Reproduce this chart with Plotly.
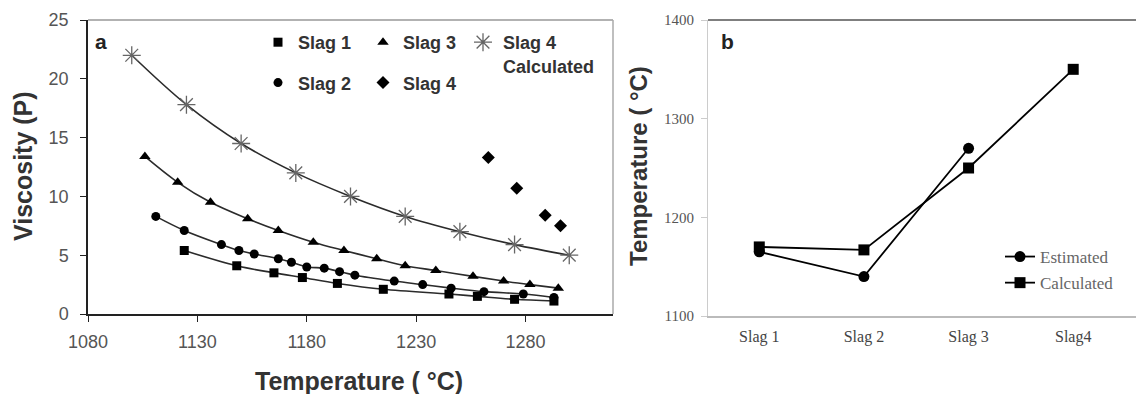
import plotly.graph_objects as go

# ---------------- data: panel a (viscosity vs temperature) ----------------
slag1_T = [1124, 1148, 1165, 1178, 1194, 1215, 1245, 1258, 1275, 1293]
slag1_V = [5.4, 4.1, 3.5, 3.1, 2.6, 2.1, 1.7, 1.5, 1.25, 1.1]

slag2_T = [1111, 1124, 1141, 1149, 1156, 1167, 1173, 1180, 1188, 1195, 1202, 1220, 1233, 1246, 1261, 1279, 1293]
slag2_V = [8.3, 7.1, 5.9, 5.4, 5.1, 4.7, 4.4, 4.0, 3.9, 3.6, 3.3, 2.8, 2.5, 2.2, 1.9, 1.7, 1.4]

slag3_T = [1106, 1121, 1136, 1153, 1167, 1183, 1197, 1212, 1225, 1239, 1256, 1270, 1282, 1295]
slag3_V = [13.4, 11.2, 9.5, 8.1, 7.1, 6.1, 5.4, 4.7, 4.1, 3.7, 3.2, 2.8, 2.5, 2.2]

slag4_T = [1263, 1276, 1289, 1296]
slag4_V = [13.3, 10.7, 8.4, 7.5]

slag4calc_T = [1100, 1125, 1150, 1175, 1200, 1225, 1250, 1275, 1300]
slag4calc_V = [22.0, 17.8, 14.5, 12.0, 10.0, 8.3, 7.0, 5.9, 5.0]

x_ticks_a = [1080, 1130, 1180, 1230, 1280]
y_ticks_a = [0, 5, 10, 15, 20, 25]

# ---------------- data: panel b (temperatures per slag) ----------------
slags = ["Slag 1", "Slag 2", "Slag 3", "Slag4"]
estimated = [1165, 1140, 1270, None]
calculated = [1170, 1167, 1250, 1350]
y_ticks_b = [1100, 1200, 1300, 1400]

W, H = 1137, 394
def px(x):
    return x / W
def py(y):
    return 1 - y / H

LINE = "#2b2b2b"
fig = go.Figure()

# fitted curves (panel a)
for T, V in [(slag1_T, slag1_V), (slag2_T, slag2_V), (slag3_T, slag3_V), (slag4calc_T, slag4calc_V)]:
    fig.add_trace(go.Scatter(x=T, y=V, mode="lines", line=dict(color=LINE, width=1.6, shape="spline"),
                             showlegend=False, hoverinfo="skip", xaxis="x", yaxis="y"))

legfont = dict(family="Liberation Sans, Arial, sans-serif", size=18, color="#333", weight="bold")

fig.add_trace(go.Scatter(x=slag1_T, y=slag1_V, mode="markers", name="Slag 1",
                         marker=dict(symbol="square", size=9, color="black"),
                         legend="legend", legendgroup="s1", xaxis="x", yaxis="y"))
fig.add_trace(go.Scatter(x=slag2_T, y=slag2_V, mode="markers", name="Slag 2",
                         marker=dict(symbol="circle", size=9, color="black"),
                         legend="legend", legendgroup="s2", xaxis="x", yaxis="y"))
fig.add_trace(go.Scatter(x=slag3_T, y=slag3_V, mode="markers", name="Slag 3",
                         marker=dict(symbol="triangle-up", size=10, color="black"),
                         legend="legend2", legendgroup="s3", xaxis="x", yaxis="y"))
fig.add_trace(go.Scatter(x=slag4_T, y=slag4_V, mode="markers", name="Slag 4",
                         marker=dict(symbol="diamond", size=10, color="black"),
                         legend="legend2", legendgroup="s4", xaxis="x", yaxis="y"))
fig.add_trace(go.Scatter(x=slag4calc_T, y=slag4calc_V, mode="markers", name="Slag 4<br>Calculated",
                         marker=dict(symbol="asterisk-open", size=15, color="#666",
                                     line=dict(color="#666", width=1.3)),
                         legend="legend3", legendgroup="s5", xaxis="x", yaxis="y"))

# panel b
fig.add_trace(go.Scatter(x=slags, y=estimated, mode="lines+markers", name="Estimated",
                         line=dict(color="black", width=1.8),
                         marker=dict(symbol="circle", size=11, color="black"),
                         legend="legend4", legendgroup="e", xaxis="x2", yaxis="y2"))
fig.add_trace(go.Scatter(x=slags, y=calculated, mode="lines+markers", name="Calculated",
                         line=dict(color="black", width=1.8),
                         marker=dict(symbol="square", size=11, color="black"),
                         legend="legend4", legendgroup="c", xaxis="x2", yaxis="y2"))

a_left, a_right, a_top, a_bot = 88, 613, 20, 314
b_left, b_right, b_top, b_bot = 708, 1136, 20, 316

tickfont_a = dict(family="Liberation Sans, Arial, sans-serif", size=18, color="#555")
tickfont_b = dict(family="Liberation Serif, Times New Roman, serif", size=15, color="#555")

fig.update_layout(
    width=W, height=H,
    margin=dict(l=0, r=0, t=0, b=0, autoexpand=False),
    paper_bgcolor="white", plot_bgcolor="white",
    xaxis=dict(domain=[px(a_left), px(a_right)], range=[1080, 1320], tickvals=x_ticks_a,
               showgrid=False, zeroline=False, showline=True, linecolor="#222", linewidth=1.5,
               ticks="outside", ticklen=6, tickcolor="#222", tickfont=tickfont_a,
               ticklabelstandoff=5, anchor="y", automargin=False),
    yaxis=dict(domain=[py(a_bot), py(a_top)], range=[0, 25], tickvals=y_ticks_a,
               showgrid=False, zeroline=False, showline=True, linecolor="#222", linewidth=1.5,
               ticks="outside", ticklen=6, tickcolor="#222", tickfont=tickfont_a,
               ticklabelstandoff=8, anchor="x", automargin=False),
    xaxis2=dict(domain=[px(b_left), px(b_right)], type="category", range=[-0.49, 3.6],
                showgrid=False, zeroline=False, showline=True, linecolor="#bbb", linewidth=1.5,
                ticks="", tickfont=dict(family="Liberation Serif, Times New Roman, serif", size=16, color="#444"),
                ticklabelstandoff=5, anchor="y2", automargin=False),
    yaxis2=dict(domain=[py(b_bot), py(b_top)], range=[1100, 1400], tickvals=y_ticks_b,
                showgrid=False, zeroline=False, showline=True, linecolor="#ccc", linewidth=1.2,
                ticks="outside", ticklen=6, tickcolor="#ccc", tickfont=tickfont_b,
                ticklabelstandoff=4, anchor="x2", automargin=False),
    legend=dict(x=px(258), y=py(24), xanchor="left", yanchor="top", font=legfont,
                bgcolor="rgba(0,0,0,0)", tracegroupgap=14, itemwidth=30, traceorder="grouped"),
    legend2=dict(x=px(363), y=py(24), xanchor="left", yanchor="top", font=legfont,
                 bgcolor="rgba(0,0,0,0)", tracegroupgap=14, itemwidth=30, traceorder="grouped"),
    legend3=dict(x=px(463), y=py(24), xanchor="left", yanchor="top", font=legfont,
                 bgcolor="rgba(0,0,0,0)", itemwidth=30, valign="top"),
    legend4=dict(x=px(1000), y=py(239), xanchor="left", yanchor="top",
                 font=dict(family="Liberation Serif, Times New Roman, serif", size=17, color="#666"),
                 bgcolor="rgba(0,0,0,0)", tracegroupgap=1, itemwidth=30, traceorder="grouped"),
    shapes=[
        dict(type="line", xref="paper", yref="paper", x0=px(a_left), x1=px(a_right), y0=py(a_top), y1=py(a_top),
             line=dict(color="#999", width=1.5)),
        dict(type="line", xref="paper", yref="paper", x0=px(a_right), x1=px(a_right), y0=py(a_top), y1=py(a_bot),
             line=dict(color="#aaa", width=1.5)),
        dict(type="line", xref="paper", yref="paper", x0=px(b_left), x1=px(b_right), y0=py(b_top), y1=py(b_top),
             line=dict(color="#555", width=1.5)),
    ],
    annotations=[
        dict(text="a", x=px(101), y=py(41), xref="paper", yref="paper", showarrow=False,
             xanchor="center", yanchor="middle",
             font=dict(family="Liberation Sans, Arial, sans-serif", size=21, color="#222", weight="bold")),
        dict(text="b", x=px(727), y=py(41), xref="paper", yref="paper", showarrow=False,
             xanchor="center", yanchor="middle",
             font=dict(family="Liberation Sans, Arial, sans-serif", size=21, color="#222", weight="bold")),
        dict(text="Temperature ( °C)", x=px(359), y=py(381), xref="paper", yref="paper", showarrow=False,
             xanchor="center", yanchor="middle",
             font=dict(family="Liberation Sans, Arial, sans-serif", size=25, color="#333", weight="bold")),
        dict(text="Viscosity (P)", x=px(23), y=py(166), xref="paper", yref="paper", showarrow=False, textangle=-90,
             xanchor="center", yanchor="middle",
             font=dict(family="Liberation Sans, Arial, sans-serif", size=25, color="#333", weight="bold")),
        dict(text="Temperature ( °C)", x=px(638), y=py(166), xref="paper", yref="paper", showarrow=False, textangle=-90,
             xanchor="center", yanchor="middle",
             font=dict(family="Liberation Sans, Arial, sans-serif", size=24, color="#333", weight="bold")),
    ],
)

fig.write_html("out.html")
